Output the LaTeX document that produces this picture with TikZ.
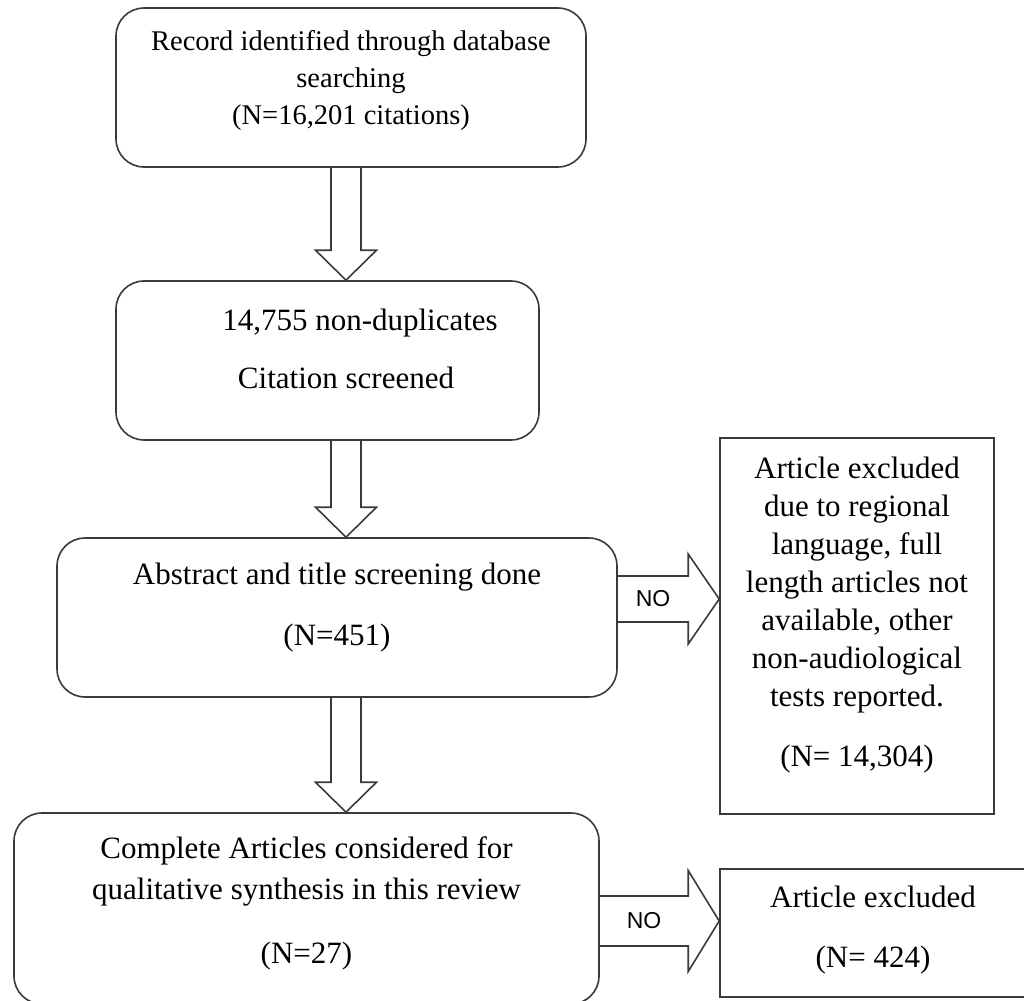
\documentclass[tikz,border=0pt]{standalone}
\usepackage{fontspec}
\setmainfont{Liberation Serif}
\newfontfamily\nofont{Liberation Sans}
\usetikzlibrary{calc}
\usetikzlibrary{positioning}
\definecolor{flow-gray}{HTML}{3A3A3A}
\colorlet{flowgray}{flow-gray}
\tikzset{
  roundbox/.style={draw=flowgray,line width=1.6pt,rounded corners=28pt,align=center,inner sep=0pt},
  plainbox/.style={draw=flowgray,line width=1.6pt,align=center,inner sep=0pt},
  flowline/.style={draw=flowgray,line width=1.6pt,line join=miter},
  nolabel/.style={font=\nofont\fontsize{23}{26}\selectfont}
}
\newcommand{\downflow}[2]{%
% hollow arrow from the bottom of #1 to the top of #2
\draw[flowline] ($(#1.south -| axis)+(-15,0)$) -- ($(#2.north -| axis)+(-15,30)$)
  -- ($(#2.north -| axis)+(-30.5,30)$) -- (#2.north -| axis)
  -- ($(#2.north -| axis)+(30.5,30)$) -- ($(#2.north -| axis)+(15,30)$)
  -- ($(#1.south -| axis)+(15,0)$);
}
\newcommand{\rightflow}[5]{%
% hollow arrow from the side of #1 to #2, on the level of #3
\draw[flowline] ($(#1.east |- #3)+(0,#4)$) -- ($(#2.west |- #3)+(-31,#4)$)
  -- ($(#2.west |- #3)+(-31,#5)$) -- (#2.west |- #3)
  -- ($(#2.west |- #3)+(-31,-#5)$) -- ($(#2.west |- #3)+(-31,-#4)$)
  -- ($(#1.east |- #3)+(0,-#4)$);
\path (#1.east |- #3) -- ($(#2.west |- #3)+(-31,0)$) node[midway,nolabel] (#1-no) {NO};
}

\begin{document}
\begin{tikzpicture}[x=1pt,y=1pt]
\useasboundingbox (0,0) rectangle (1024,-1000);
\clip (0,0) rectangle (1024,-1000);
% left column
\node[roundbox,minimum width=470pt,minimum height=159pt,text depth=21pt,
  font=\fontsize{28.5}{37}\selectfont] (record) at (351,-87.5)
  {Record identified through database\\searching\\(N=16,201 citations)};
\node[roundbox,minimum width=423pt,minimum height=159pt,text depth=23pt,
  font=\fontsize{31}{58}\selectfont] (dedup) at (327.5,-360.5)
  {\hspace*{65pt}14,755 non-duplicates\\\hspace*{37pt}Citation screened};
\node[roundbox,minimum width=560pt,minimum height=159pt,text depth=27pt,
  font=\fontsize{31}{61}\selectfont] (abstract) at (337,-617.5)
  {Abstract and title screening done\\(N=451)};
\node[roundbox,minimum width=585pt,minimum height=191pt,text depth=17pt,
  font=\fontsize{31}{41}\selectfont] (included) at (306.5,-908.5)
  {Complete Articles considered for\\qualitative synthesis in this review\\[23pt](N=27)};
% right column
\node[plainbox,minimum width=274pt,minimum height=376pt,text depth=28pt,
  font=\fontsize{31}{38}\selectfont] (excluded) at (857,-626)
  {Article excluded\\due to regional\\language, full\\length articles not\\available, other\\non-audiological\\tests reported.\\[22pt](N= 14,304)};
\node[plainbox,minimum width=306pt,minimum height=128pt,text depth=13pt,
  font=\fontsize{31}{60}\selectfont] (excludedb) at (873,-933)
  {Article excluded\\(N= 424)};
% arrows
\coordinate (axis) at (346,0);
\downflow{record}{dedup}
\downflow{dedup}{abstract}
\downflow{abstract}{included}
\coordinate (noaxis) at (0,-599);
\rightflow{abstract}{excluded}{noaxis}{23}{45}
\coordinate (noaxisb) at (0,-921);
\rightflow{included}{excludedb}{noaxisb}{25}{50.5}
\end{tikzpicture}
\end{document}
